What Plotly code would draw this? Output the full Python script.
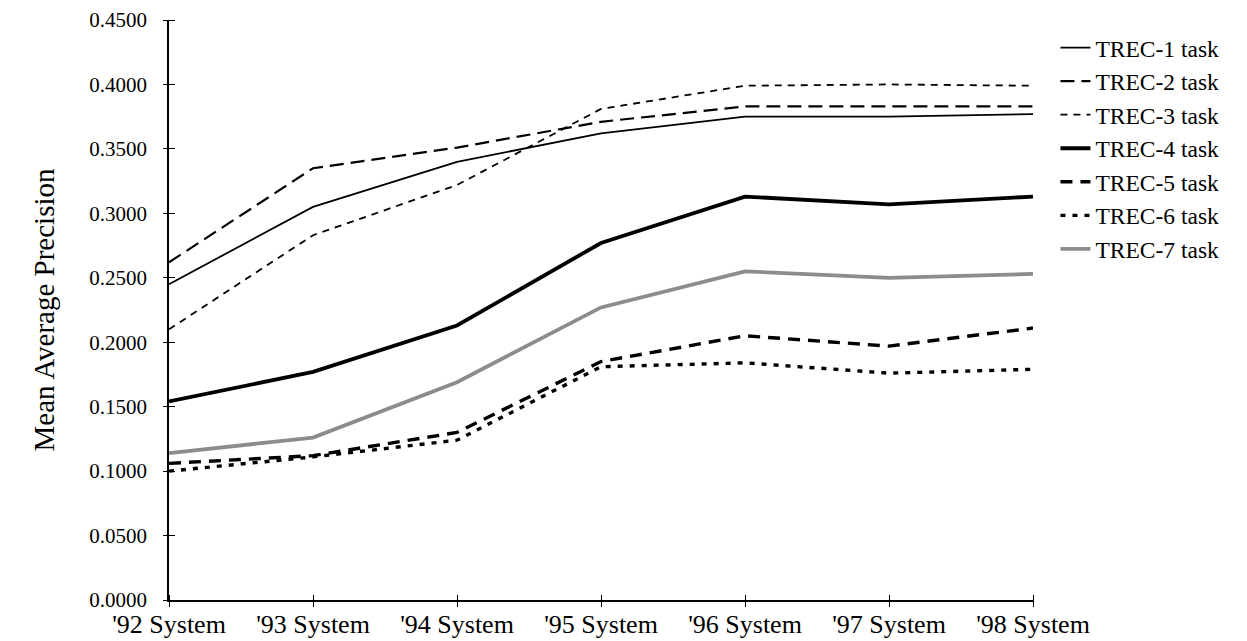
import plotly.graph_objects as go

categories = ["'92 System", "'93 System", "'94 System", "'95 System", "'96 System", "'97 System", "'98 System"]
trec1 = [0.245, 0.305, 0.340, 0.362, 0.375, 0.375, 0.377]
trec2 = [0.262, 0.335, 0.351, 0.371, 0.383, 0.383, 0.383]
trec3 = [0.210, 0.283, 0.322, 0.381, 0.399, 0.400, 0.399]
trec4 = [0.154, 0.177, 0.213, 0.277, 0.313, 0.307, 0.313]
trec5 = [0.106, 0.112, 0.130, 0.185, 0.205, 0.197, 0.211]
trec6 = [0.100, 0.111, 0.124, 0.181, 0.184, 0.176, 0.179]
trec7 = [0.114, 0.126, 0.169, 0.227, 0.255, 0.250, 0.253]
series_names = ["TREC-1 task", "TREC-2 task", "TREC-3 task", "TREC-4 task",
                "TREC-5 task", "TREC-6 task", "TREC-7 task"]
y_ticks = [0.0, 0.05, 0.1, 0.15, 0.2, 0.25, 0.3, 0.35, 0.4, 0.45]

series = [trec1, trec2, trec3, trec4, trec5, trec6, trec7]
styles = [
    dict(color="black", width=1.8, dash="solid"),
    dict(color="black", width=2.2, dash="14px,7px"),
    dict(color="black", width=1.8, dash="7px,6px"),
    dict(color="black", width=3.8, dash="solid"),
    dict(color="black", width=3.4, dash="12px,8px"),
    dict(color="black", width=3.4, dash="5px,7px"),
    dict(color="#8c8c8c", width=3.8, dash="solid"),
]

# page body has an 8px margin, so the figure is a bit smaller than the window
W, H = 1239, 633
L, T, B = 161, 12, 41
PW = 864
PH = H - T - B
R = W - L - PW

font_family = "Liberation Serif, Times New Roman, serif"
fig = go.Figure()
xs = list(range(len(categories)))
for name, vals, st in zip(series_names, series, styles):
    fig.add_trace(go.Scatter(x=xs, y=vals, mode="lines", name=name, line=st))

# transparent trace on helper axes that draw crossing tick marks
fig.add_trace(go.Scatter(x=xs, y=trec1, mode="lines", xaxis="x2", yaxis="y2",
                         line=dict(width=1, color="rgba(0,0,0,0)"), showlegend=False, hoverinfo="skip"))

half = 6
fig.update_layout(
    width=W, height=H,
    margin=dict(l=L, r=R, t=T, b=B, autoexpand=False),
    paper_bgcolor="white", plot_bgcolor="white",
    font=dict(family=font_family, size=20, color="black"),
    xaxis=dict(
        range=[0, len(categories) - 1],
        tickmode="array", tickvals=xs, ticktext=categories,
        showgrid=False, zeroline=False, automargin=False,
        showline=True, linecolor="black", linewidth=1.5,
        ticks="", ticklen=half,
        tickfont=dict(size=26, family=font_family),
    ),
    yaxis=dict(
        range=[0, 0.45],
        tickmode="array", tickvals=y_ticks,
        tickformat=".4f",
        showgrid=False, zeroline=False, automargin=False,
        showline=True, linecolor="black", linewidth=1.5,
        ticks="", ticklen=half,
        ticklabelstandoff=16,
        tickfont=dict(size=21, family=font_family),
        title=dict(text="Mean Average Precision", font=dict(size=29, family=font_family), standoff=26),
    ),
    xaxis2=dict(
        range=[0, len(categories) - 1], overlaying="x", anchor="free",
        position=half / PH,
        tickmode="array", tickvals=xs, showticklabels=False,
        showgrid=False, zeroline=False, showline=False, automargin=False,
        ticks="outside", ticklen=2 * half, tickwidth=1.2, tickcolor="black",
    ),
    yaxis2=dict(
        range=[0, 0.45], overlaying="y", anchor="free", side="left",
        position=half / PW,
        tickmode="array", tickvals=y_ticks, showticklabels=False,
        showgrid=False, zeroline=False, showline=False, automargin=False,
        ticks="outside", ticklen=2 * half, tickwidth=1.2, tickcolor="black",
    ),
    legend=dict(
        x=1.026, xanchor="left", y=0.99, yanchor="top",
        font=dict(size=23.5, family=font_family),
        bgcolor="rgba(0,0,0,0)", itemwidth=30,
        tracegroupgap=0,
    ),
    showlegend=True,
)

fig.write_html("out.html")
